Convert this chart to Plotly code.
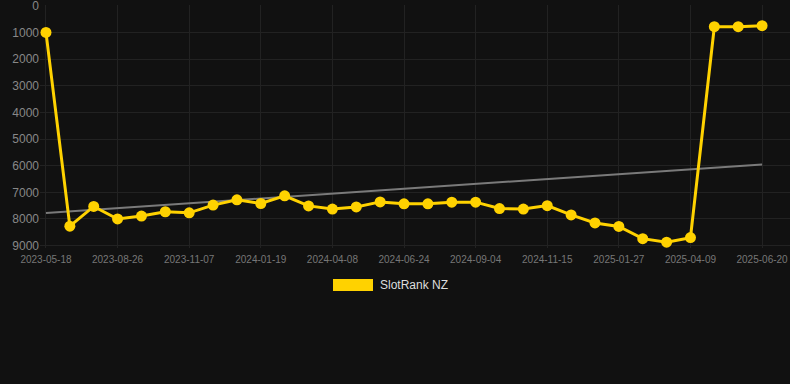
import numpy as np
import plotly.graph_objects as go

dates = [
    "2023-05-18", "2023-06-20", "2023-07-24", "2023-08-26", "2023-09-19", "2023-10-13",
    "2023-11-07", "2023-12-01", "2023-12-25", "2024-01-19", "2024-02-14", "2024-03-12",
    "2024-04-08", "2024-05-03", "2024-05-29", "2024-06-24", "2024-07-18", "2024-08-11",
    "2024-09-04", "2024-09-28", "2024-10-22", "2024-11-15", "2024-12-09", "2025-01-02",
    "2025-01-27", "2025-02-20", "2025-03-16", "2025-04-09", "2025-05-03", "2025-05-27",
    "2025-06-20",
]
rank = [
    1000, 8270, 7530, 8000, 7890, 7730, 7770, 7480, 7280, 7420, 7130, 7510,
    7630, 7550, 7360, 7430, 7430, 7370, 7370, 7610, 7630, 7500, 7850, 8150,
    8280, 8740, 8870, 8700, 785, 785, 747,
]
tick_labels = [
    "2023-05-18", "2023-08-26", "2023-11-07", "2024-01-19", "2024-04-08", "2024-06-24",
    "2024-09-04", "2024-11-15", "2025-01-27", "2025-04-09", "2025-06-20",
]
y_ticks = [0, 1000, 2000, 3000, 4000, 5000, 6000, 7000, 8000, 9000]
series_name = "SlotRank NZ"

YELLOW = "#FFD200"
idx = np.arange(len(rank))
slope, intercept = np.polyfit(idx, np.array(rank, dtype=float), 1)
trend = slope * idx + intercept

fig = go.Figure()
fig.add_trace(go.Scatter(
    x=dates, y=trend, mode="lines",
    line=dict(color="#7a7a7a", width=2),
    hoverinfo="skip", showlegend=False,
))
fig.add_trace(go.Scatter(
    x=dates, y=rank, mode="lines+markers", name=series_name,
    line=dict(color=YELLOW, width=3),
    marker=dict(color=YELLOW, size=11),
    showlegend=False,
))

PL, PR, PT, PB = 40, 790, 5, 248
pw, ph = PR - PL, PB - PT

# legend (swatch + label)
fig.add_shape(type="rect", xref="paper", yref="paper",
              x0=(333 - PL) / pw, x1=(373 - PL) / pw,
              y0=(PB - 291) / ph, y1=(PB - 279) / ph,
              fillcolor=YELLOW, line=dict(width=0))
fig.add_annotation(text=series_name, xref="paper", yref="paper",
                   x=(378 - PL) / pw, y=(PB - 285) / ph,
                   xanchor="left", yanchor="middle", showarrow=False,
                   font=dict(size=12, color="#dddddd"))

fig.update_layout(
    width=790, height=384,
    margin=dict(l=PL, r=790 - PR, t=PT, b=384 - PB, pad=0),
    paper_bgcolor="#111111", plot_bgcolor="#111111",
    font=dict(family="Liberation Sans, Arial, sans-serif", color="#888888"),
    showlegend=False,
)
fig.update_xaxes(
    type="category", categoryorder="array", categoryarray=dates,
    tickmode="array", tickvals=tick_labels, ticktext=tick_labels,
    range=[-0.25, 31.17], ticklabelstandoff=4,
    showgrid=True, gridcolor="#222222", gridwidth=1,
    zeroline=False, showline=False, ticks="",
    tickfont=dict(size=10, color="#777777"),
)
fig.update_yaxes(
    range=[9090, -30], tickvals=y_ticks, ticklabeloverflow="allow",
    showgrid=True, gridcolor="#222222", gridwidth=1,
    zeroline=False, showline=False, ticks="",
    tickfont=dict(size=12, color="#888888"),
)

fig.write_html("out.html", config={"displayModeBar": False},
               post_script="document.body.style.margin='0';")
